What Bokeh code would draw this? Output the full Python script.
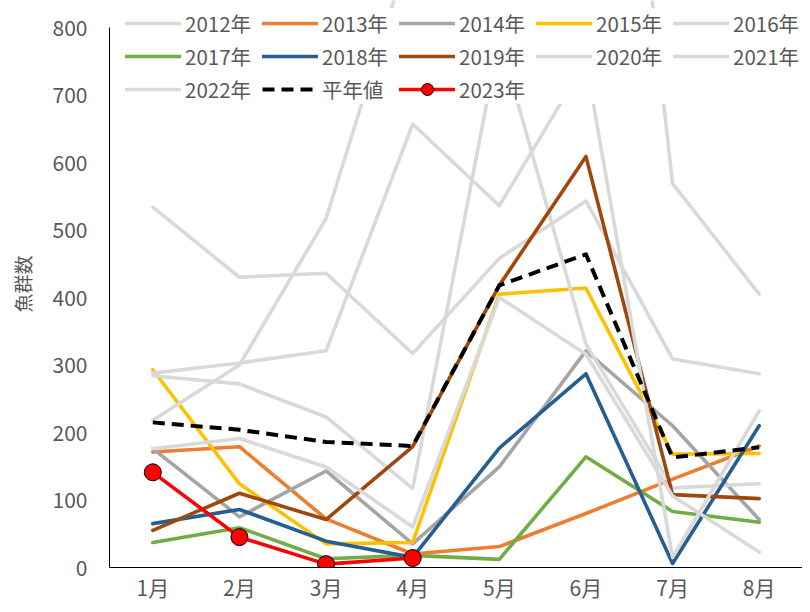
from bokeh.plotting import figure
from bokeh.models import Range1d, FactorRange, FixedTicker, Legend, LegendItem
from bokeh.embed import file_html
from bokeh.resources import INLINE

months = ["1月", "2月", "3月", "4月", "5月", "6月", "7月", "8月"]
y2012 = [534, 430, 436, 317, 458, 543, 309, 287]
y2013 = [171, 179, 72, 20, 31, 80, 131, 180]
y2014 = [176, 75, 143, 35, 149, 321, 210, 71]
y2015 = [293, 124, 35, 37, 405, 414, 168, 169]
y2016 = [284, 272, 223, 117, 785, 331, 118, 124]
y2017 = [37, 59, 13, 18, 12, 164, 83, 67]
y2018 = [65, 86, 39, 15, 177, 287, 6, 210]
y2019 = [55, 110, 71, 179, 418, 609, 108, 102]
y2020 = [176, 191, 149, 60, 400, 316, 106, 23]
y2021 = [288, 303, 321, 657, 536, 750, 15, 232]
y2022 = [218, 300, 517, 930, 1300, 1720, 569, 405]
avg = [215, 204, 186, 180, 418, 464, 163, 178]
y2023 = [141, 45, 5, 14]
y_ticks = [0, 100, 200, 300, 400, 500, 600, 700, 800]

FONT = "Noto Sans CJK JP"
TXT = "#595959"
LG = "#D9D9D9"

# frame reaches the canvas top so the legend (drawn over the top band) is not clipped;
# the y axis itself is bounded to 0..800
p = figure(x_range=FactorRange(factors=months, range_padding=0),
           y_range=Range1d(0, 840),
           width=802, height=604, output_backend="svg", toolbar_location=None,
           min_border_left=109, min_border_right=0, min_border_top=0, min_border_bottom=37)
p.outline_line_color = None
p.grid.visible = False
p.background_fill_color = "white"

for ax in (p.xaxis, p.yaxis):
    ax.axis_line_color = "black"
    ax.axis_line_width = 1
    ax.major_tick_line_color = None
    ax.minor_tick_line_color = None
    ax.major_tick_out = 0
    ax.major_tick_in = 0
    ax.minor_tick_out = 0
    ax.minor_tick_in = 0
    ax.major_label_text_font = FONT
    ax.major_label_text_font_size = "21px"
    ax.major_label_text_color = TXT

p.yaxis.ticker = FixedTicker(ticks=y_ticks)
p.yaxis.bounds = (0, 800)
p.yaxis.major_label_standoff = 22
p.yaxis.axis_label = "魚群数"
p.yaxis.axis_label_text_font = FONT
p.yaxis.axis_label_text_font_size = "19px"
p.yaxis.axis_label_text_font_style = "normal"
p.yaxis.axis_label_text_color = TXT
p.yaxis.axis_label_standoff = 14
p.xaxis.major_label_standoff = 4

W = 3.6
series = [
    ("2012年", y2012, LG),
    ("2013年", y2013, "#ED7D31"),
    ("2014年", y2014, "#A5A5A5"),
    ("2015年", y2015, "#FFC000"),
    ("2016年", y2016, LG),
    ("2017年", y2017, "#70AD47"),
    ("2018年", y2018, "#255E91"),
    ("2019年", y2019, "#9E480E"),
    ("2020年", y2020, LG),
    ("2021年", y2021, LG),
    ("2022年", y2022, LG),
]
items = []
for label, ys, col in series:
    r = p.line(months, ys, line_color=col, line_width=W, line_join="round", line_cap="round")
    items.append(LegendItem(label=label, renderers=[r]))

r_avg = p.line(months, avg, line_color="black", line_width=4, line_dash="12 7", line_join="round")
items.append(LegendItem(label="平年値", renderers=[r_avg]))

r23 = p.line(months[:4], y2023, line_color="#FF0000", line_width=W, line_join="round", line_cap="round")
s23 = p.scatter(months[:4], y2023, size=17, fill_color="#FF0000", line_color="black", line_width=1)
items.append(LegendItem(label="2023年", renderers=[r23, s23]))

legend = Legend(items=items, location=(16, 463), orientation="horizontal", ncols=5,
                glyph_width=56, glyph_height=30, label_height=20, label_width=74, label_standoff=4,
                spacing=3, padding=8, margin=0, border_line_color=None,
                background_fill_color="white", background_fill_alpha=1,
                label_text_font=FONT, label_text_font_size="20.5px", label_text_color=TXT)
p.add_layout(legend)

open("out.html", "w").write(file_html(p, INLINE))
